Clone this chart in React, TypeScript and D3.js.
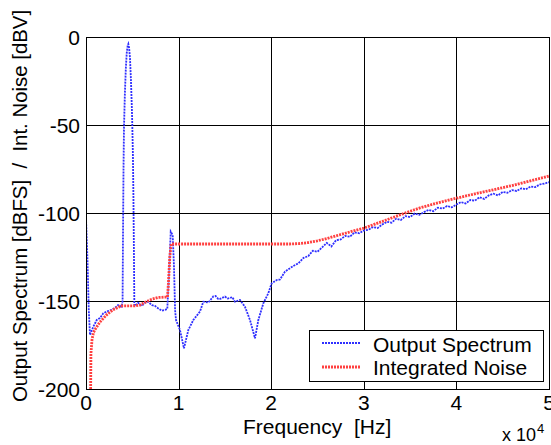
import React from 'react';
import * as d3 from 'd3';

const xTicks = [0, 1, 2, 3, 4, 5];
const yTicks = [0, -50, -100, -150, -200];
const legendLabels = ['Output Spectrum', 'Integrated Noise'];

// [frequency (x 10^4 Hz), level (dB)]
const outputSpectrum: [number, number][] = [
  [0, -103], [0.015, -125], [0.03, -155], [0.043, -169.3], [0.079, -164.6], [0.116, -160.8],
  [0.151, -159.7], [0.187, -157], [0.224, -156], [0.278, -155], [0.332, -153.2], [0.346, -152.3],
  [0.386, -153.2], [0.395, -150], [0.4, -110], [0.405, -75], [0.41, -52], [0.42, -32], [0.43, -18],
  [0.44, -9], [0.45, -5], [0.457, -4], [0.465, -6], [0.475, -12], [0.485, -24], [0.495, -40],
  [0.5, -50], [0.507, -68], [0.512, -90], [0.518, -125], [0.522, -152], [0.529, -152.8],
  [0.562, -151], [0.602, -152.8], [0.637, -151], [0.67, -150.4], [0.71, -152.3], [0.745, -152.8],
  [0.778, -154.1], [0.818, -155.5], [0.853, -155], [0.878, -154.5], [0.896, -135], [0.915, -110.6],
  [0.936, -112.5], [0.95, -130], [0.962, -155], [0.972, -160.8], [1.015, -166.5], [1.058, -176.9],
  [1.105, -166.5], [1.159, -160.8], [1.231, -156], [1.267, -150.4], [1.321, -150.9], [1.35, -149],
  [1.375, -147.4], [1.4, -147.2], [1.429, -148.9], [1.45, -148.8], [1.483, -147.9], [1.5, -147.5],
  [1.53, -148.6], [1.555, -148.3], [1.58, -147.8], [1.609, -150.4], [1.63, -150], [1.663, -149.4],
  [1.717, -153.3], [1.771, -160.8], [1.825, -171.2], [1.861, -160.8], [1.915, -151.3], [1.969, -145.6],
  [2.005, -140], [2.059, -138.1], [2.095, -137.8], [2.149, -133.3], [2.239, -130.1], [2.293, -128.6],
  [2.35, -125.5], [2.4, -124.5], [2.45, -121.5], [2.5, -122], [2.55, -119.5], [2.6, -117],
  [2.65, -119], [2.7, -115.5], [2.75, -115], [2.8, -113], [2.85, -113.5], [2.9, -111],
  [2.95, -111.5], [3.0, -110], [3.05, -109.5], [3.1, -108], [3.15, -108.5], [3.2, -106.5],
  [3.25, -105], [3.3, -105.5], [3.35, -103.2], [3.4, -104], [3.45, -101.8], [3.5, -102.3],
  [3.55, -100.3], [3.6, -101], [3.65, -99.5], [3.7, -98.2], [3.75, -99], [3.8, -97],
  [3.85, -97.5], [3.9, -96], [3.95, -96.8], [4.0, -95.2], [4.05, -93.8], [4.1, -94.6],
  [4.15, -92.6], [4.2, -93], [4.25, -91], [4.3, -92], [4.35, -90], [4.4, -89],
  [4.45, -90], [4.5, -88], [4.55, -88.5], [4.6, -87], [4.65, -87.5], [4.7, -86],
  [4.75, -86.5], [4.8, -85], [4.85, -85.3], [4.9, -83.8], [4.95, -83.3], [5.0, -82.5],
];

const integratedNoise: [number, number][] = [
  [0.05, -200], [0.053, -180], [0.065, -172], [0.08, -168], [0.1, -166], [0.15, -162],
  [0.22, -158], [0.29, -155], [0.38, -152.8], [0.52, -152.8], [0.58, -152.3], [0.65, -150.4],
  [0.71, -149], [0.78, -148], [0.88, -147.7], [0.89, -140], [0.905, -125], [0.92, -117.6],
  [1.5, -117.6], [2.2, -117.6], [2.3, -117.4], [2.4, -116.8], [2.5, -115.8], [2.6, -114.5],
  [2.7, -113], [2.8, -111.5], [2.9, -110], [3.0, -108.6], [3.2, -104.8], [3.4, -100.9],
  [3.6, -97.2], [3.8, -94.2], [4.0, -91.6], [4.2, -89.1], [4.4, -86.8], [4.6, -84.4],
  [4.8, -81.7], [5.0, -79],
];

const FONT = "'Liberation Sans', Arial, Helvetica, sans-serif";

export default function App() {
  const W = 551;
  const H = 445;
  const x = d3.scaleLinear().domain([0, 5]).range([86, 549]);
  const y = d3.scaleLinear().domain([-200, 0]).range([389, 37]);
  const line = d3.line<[number, number]>().x(d => x(d[0])).y(d => y(d[1]));
  const px = (v: number) => Math.round(x(v)) + 0.5;
  const py = (v: number) => Math.round(y(v)) + 0.5;
  const left = px(0), right = px(5), top = py(0), bottom = py(-200);

  const blueStyle = { stroke: '#2f2fff', strokeWidth: 1.8, strokeDasharray: '2 1', fill: 'none' };
  const redStyle = { stroke: '#ff4040', strokeWidth: 2.8, strokeDasharray: '2 1', fill: 'none' };

  return (
    <svg width={W} height={H} style={{ position: 'absolute', left: 0, top: 0, background: '#fff' }}
      fontFamily={FONT}>
      <defs>
        <clipPath id="plotClip">
          <rect x={86} y={37} width={463} height={352} />
        </clipPath>
      </defs>
      <rect x={0} y={0} width={W} height={H} fill="#fff" />
      {/* grid */}
      {xTicks.map(t => (
        <line key={'gx' + t} x1={px(t)} x2={px(t)} y1={top} y2={bottom} stroke="#000" strokeWidth={1} />
      ))}
      {yTicks.map(t => (
        <line key={'gy' + t} x1={left} x2={right} y1={py(t)} y2={py(t)} stroke="#000" strokeWidth={1} />
      ))}
      {/* data */}
      <g clipPath="url(#plotClip)">
        <path d={line(outputSpectrum) || ''} {...blueStyle} />
        <path d={line(integratedNoise) || ''} {...redStyle} />
      </g>
      {/* frame */}
      <rect x={left} y={top} width={right - left} height={bottom - top} fill="none" stroke="#000" strokeWidth={1} />
      {/* tick labels */}
      {xTicks.map(t => (
        <text key={'tx' + t} x={x(t)} y={410} fontSize={21} textAnchor="middle" fill="#000">{t}</text>
      ))}
      {yTicks.map(t => (
        <text key={'ty' + t} x={80} y={y(t) + 7.5} fontSize={21} textAnchor="end" fill="#000">{t}</text>
      ))}
      <text x={502} y={441} fontSize={18} fill="#000">x 10</text>
      <text x={537} y={433} fontSize={13} fill="#000">4</text>
      {/* axis labels */}
      <text x={243} y={434} fontSize={21} fill="#000" style={{ whiteSpace: 'pre' }}>Frequency  [Hz]</text>
      <text transform="translate(27,402) rotate(-90)" fontSize={20.4} fill="#000" style={{ whiteSpace: 'pre' }}>
        Output Spectrum [dBFS]  /  Int. Noise [dBV]
      </text>
      {/* legend */}
      <rect x={309.5} y={330.5} width={234} height={51} fill="#fff" stroke="#000" strokeWidth={1} />
      <line x1={322} x2={360} y1={343} y2={343} {...blueStyle} />
      <line x1={322} x2={360} y1={367} y2={367} {...redStyle} />
      <text x={373} y={351.5} fontSize={21} fill="#000">{legendLabels[0]}</text>
      <text x={373} y={375} fontSize={21} fill="#000">{legendLabels[1]}</text>
    </svg>
  );
}
